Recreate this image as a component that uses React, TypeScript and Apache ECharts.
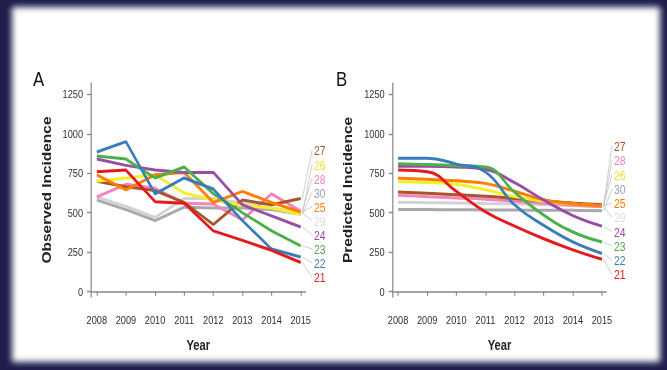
import React, { useEffect, useRef } from "react";
import * as echarts from "echarts";

const years = [2008, 2009, 2010, 2011, 2012, 2013, 2014, 2015];
const groups = ["21", "22", "23", "24", "25", "26", "27", "28", "29", "30"];
const yTicks = [0, 250, 500, 750, 1000, 1250];

// Observed incidence (panel A)
const observed21 = [760, 770, 570, 560, 385, 325, 262, 185];
const observed22 = [885, 950, 620, 720, 650, 450, 270, 220];
const observed23 = [860, 840, 720, 790, 620, 500, 385, 290];
const observed24 = [840, 800, 770, 755, 755, 550, 480, 410];
const observed25 = [740, 645, 740, 755, 565, 635, 565, 505];
const observed26 = [700, 720, 740, 625, 580, 545, 530, 490];
const observed27 = [700, 665, 640, 565, 425, 580, 550, 590];
const observed28 = [600, 680, 655, 560, 555, 455, 620, 510];
const observed29 = [600, 540, 470, 590, 590, 560, 530, 500];
const observed30 = [580, 520, 450, 535, 530, 530, 520, 490];

// Predicted incidence (panel B)
const predicted21 = [770, 760, 635, 505, 415, 335, 265, 205];
const predicted22 = [845, 845, 808, 758, 550, 420, 315, 242];
const predicted23 = [810, 805, 798, 790, 630, 485, 378, 315];
const predicted24 = [795, 795, 790, 775, 690, 580, 482, 415];
const predicted25 = [718, 712, 702, 686, 636, 582, 556, 545];
const predicted26 = [697, 692, 680, 645, 602, 572, 556, 545];
const predicted27 = [632, 623, 614, 605, 590, 575, 561, 550];
const predicted28 = [610, 602, 594, 586, 572, 560, 548, 538];
const predicted29 = [566, 564, 562, 559, 556, 551, 546, 540];
const predicted30 = [521, 520, 519, 518, 517, 516, 515, 512];

const observedLabelOrder = ["27", "26", "28", "30", "25", "29", "24", "23", "22", "21"];
const predictedLabelOrder = ["27", "28", "26", "30", "25", "29", "24", "23", "22", "21"];

const observed = [observed21, observed22, observed23, observed24, observed25, observed26, observed27, observed28, observed29, observed30];
const predicted = [predicted21, predicted22, predicted23, predicted24, predicted25, predicted26, predicted27, predicted28, predicted29, predicted30];

const lineColors = ["#e41a1c", "#377eb8", "#4daf4a", "#984ea3", "#ff7f00", "#f5ee2a", "#a65628", "#f781bf", "#d2d2d2", "#a9a9ad"];
const labelColors = ["#e41a1c", "#377eb8", "#4daf4a", "#984ea3", "#ff7f00", "#e8e040", "#a65628", "#f781bf", "#dddddd", "#9ea0ae"];
const drawOrder = [8, 9, 7, 6, 5, 4, 3, 2, 1, 0];

const SANS = "'Liberation Sans', Arial, sans-serif";
// horizontal compression of the whole figure (the original image is squeezed sideways)
const S = 0.8;
const W = 834;

export default function App() {
  const ref = useRef<HTMLDivElement>(null);
  useEffect(() => {
    if (!ref.current) return;
    const chart = echarts.init(ref.current, undefined, { renderer: "svg" });

    const panels = [
      { left: 91, width: 214.5, min: 2007.8, max: 2015.165, name: "Observed Incidence", data: observed, order: observedLabelOrder, labelX: 314, labelTop: 150.5, labelStep: 14.05, smooth: false },
      { left: 392.7, width: 213.8, min: 2007.815, max: 2015.155, name: "Predicted Incidence", data: predicted, order: predictedLabelOrder, labelX: 614, labelTop: 146, labelStep: 14.28, smooth: 0.45 },
    ];

    const axisColor = "#888888";
    const grids: any[] = [];
    const xAxes: any[] = [];
    const yAxes: any[] = [];
    const series: any[] = [];

    panels.forEach((p, pi) => {
      grids.push({ left: p.left / S, top: 83, width: p.width / S, height: 214 });
      xAxes.push({
        type: "value", gridIndex: pi, min: p.min, max: p.max,
        name: "Year", nameLocation: "middle", nameGap: 42,
        nameTextStyle: { fontFamily: SANS, fontWeight: "bold", fontSize: 14, color: "#222" },
        axisLine: { show: true, lineStyle: { color: axisColor, width: 1.5 } },
        axisTick: { show: true, length: 4, customValues: years, lineStyle: { color: axisColor, width: 1.4 } },
        axisLabel: { customValues: years, formatter: (v: number) => String(v), fontFamily: SANS, fontSize: 11.5, color: "#2e2e2e", margin: 17 },
        splitLine: { show: false },
      });
      yAxes.push({
        type: "value", gridIndex: pi, min: -33.6, max: 1321.6,
        name: p.name, nameLocation: "middle", nameGap: 48,
        nameTextStyle: { fontFamily: SANS, fontWeight: "bold", fontSize: 15.5, color: "#222" },
        axisLine: { show: true, lineStyle: { color: axisColor, width: 1.5 } },
        axisTick: { show: true, length: 5, customValues: yTicks, lineStyle: { color: axisColor, width: 1.4 } },
        axisLabel: { customValues: yTicks, formatter: (v: number) => String(v), fontFamily: SANS, fontSize: 11.5, color: "#2e2e2e", margin: 10 },
        splitLine: { show: false },
      });
      drawOrder.forEach((gi) => {
        series.push({
          type: "line", xAxisIndex: pi, yAxisIndex: pi, name: groups[gi],
          data: years.map((y, i) => [y, p.data[gi][i]]),
          showSymbol: false, silent: true,
          smooth: p.smooth,
          lineStyle: { color: lineColors[gi], width: 3 },
          itemStyle: { color: lineColors[gi] },
        });
      });
      series.push({
        type: "custom", xAxisIndex: pi, yAxisIndex: pi, clip: false, silent: true,
        encode: { x: 0, y: 1 },
        data: p.order.map((g, k) => {
          const gi = groups.indexOf(g);
          return [years[years.length - 1], p.data[gi][years.length - 1], k, gi];
        }),
        renderItem: (params: any, api: any) => {
          const pt = api.coord([api.value(0), api.value(1)]);
          const k = api.value(2);
          const gi = api.value(3);
          const ly = p.labelTop + k * p.labelStep;
          return {
            type: "group",
            children: [
              { type: "line", shape: { x1: pt[0] + 2, y1: pt[1], x2: p.labelX / S - 2.5, y2: ly }, style: { stroke: "#c2c2c2", lineWidth: 0.9 } },
              { type: "text", style: { text: groups[gi], x: p.labelX / S, y: ly, fill: labelColors[gi], fontSize: 13, fontFamily: SANS, align: "left", verticalAlign: "middle" } },
            ],
          };
        },
      });
    });

    chart.setOption({
      animation: false,
      backgroundColor: "transparent",
      grid: grids,
      xAxis: xAxes,
      yAxis: yAxes,
      series,
      graphic: [
        { type: "text", left: 33 / S, top: 68, style: { text: "A", fontSize: 21, fontFamily: SANS, fill: "#111" } },
        { type: "text", left: 336 / S, top: 68, style: { text: "B", fontSize: 21, fontFamily: SANS, fill: "#111" } },
      ],
    });
    return () => chart.dispose();
  }, []);

  return (
    <div style={{ position: "fixed", left: 0, top: 0, width: 667, height: 370, background: "#1e1d4c", overflow: "hidden" }}>
      <div style={{ position: "absolute", left: 12, top: 7, width: 648, height: 355, background: "#ffffff", filter: "blur(3px)" }} />
      <div ref={ref} style={{ position: "absolute", left: 0, top: 0, width: W, height: 370, transform: `scaleX(${S})`, transformOrigin: "0 0" }} />
    </div>
  );
}
